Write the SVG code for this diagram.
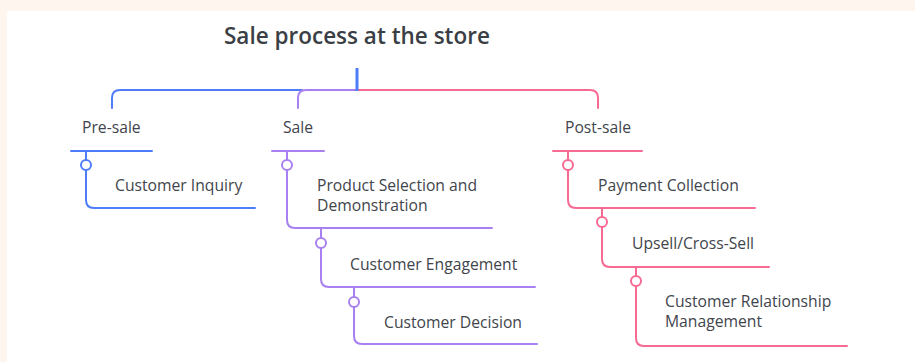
<svg xmlns="http://www.w3.org/2000/svg" width="915" height="362" viewBox="0 0 915 362">
<style>
.t{font-family:"Open Sans",Lato,"Liberation Sans",sans-serif;font-size:15.7px;fill:#41454b}
.title{font-family:"Open Sans",Lato,"Liberation Sans",sans-serif;font-size:22.5px;font-weight:600;fill:#3b3f45}
.ln{fill:none;stroke-width:2;stroke-linecap:round}
.b{stroke:#4f7dfa}
.p{stroke:#a880f2}
.k{stroke:#f76a92}
.dot{fill:#ffffff;stroke-width:2}
</style>
<rect x="0" y="0" width="915" height="362" fill="#fef5ef"/>
<rect x="7" y="11" width="908" height="351" fill="#ffffff"/>
<g id="title"><text class="title" x="224" y="44">Sale process at the store</text></g>
<g id="connectors">
<path class="ln b" d="M112,108 V98 Q112,90 120,90 H302"/>
<path class="ln p" d="M298,108 V98 Q298,90 306,90 H357"/>
<path class="ln k" d="M357,90 H590 Q598,90 598,98 V108"/>
<path fill="none" stroke="#4f7dfa" stroke-width="3" d="M357,68 V91"/>
<path class="ln b" d="M86,151 V160 M86,170 V200 Q86,208 94,208 H255"/>
<circle class="dot b" cx="86" cy="165" r="5"/>
<path class="ln p" d="M287,151 V160 M287,170 V220 Q287,228 295,228 H492"/>
<circle class="dot p" cx="287" cy="165" r="5"/>
<path class="ln p" d="M321,228 V238 M321,248 V279 Q321,287 329,287 H535"/>
<circle class="dot p" cx="321" cy="243" r="5"/>
<path class="ln p" d="M354,287 V297 M354,307 V336 Q354,344 362,344 H537"/>
<circle class="dot p" cx="354" cy="302" r="5"/>
<path class="ln k" d="M568,151 V160 M568,170 V200 Q568,208 576,208 H755"/>
<circle class="dot k" cx="568" cy="165" r="5"/>
<path class="ln k" d="M602,208 V217 M602,227 V259 Q602,267 610,267 H769"/>
<circle class="dot k" cx="602" cy="222" r="5"/>
<path class="ln k" d="M636,267 V276 M636,286 V338 Q636,346 644,346 H847"/>
<circle class="dot k" cx="636" cy="281" r="5"/>
</g>
<g id="pre-sale"><text class="t" x="82" y="133">Pre-sale</text><path class="ln b" d="M71,151 H152"/></g>
<g id="sale"><text class="t" x="283" y="133">Sale</text><path class="ln p" d="M272,151 H324"/></g>
<g id="post-sale"><text class="t" x="565" y="133">Post-sale</text><path class="ln k" d="M553,151 H642"/></g>
<g id="customer-inquiry"><text class="t" x="115" y="191">Customer Inquiry</text></g>
<g id="product-selection"><text class="t" x="317" y="191">Product Selection and</text><text class="t" x="317" y="211">Demonstration</text></g>
<g id="customer-engagement"><text class="t" x="350" y="270">Customer Engagement</text></g>
<g id="customer-decision"><text class="t" x="384" y="328">Customer Decision</text></g>
<g id="payment-collection"><text class="t" x="598" y="191">Payment Collection</text></g>
<g id="upsell"><text class="t" x="632" y="249">Upsell/Cross-Sell</text></g>
<g id="crm"><text class="t" x="665" y="307">Customer Relationship</text><text class="t" x="665" y="327">Management</text></g>
</svg>
